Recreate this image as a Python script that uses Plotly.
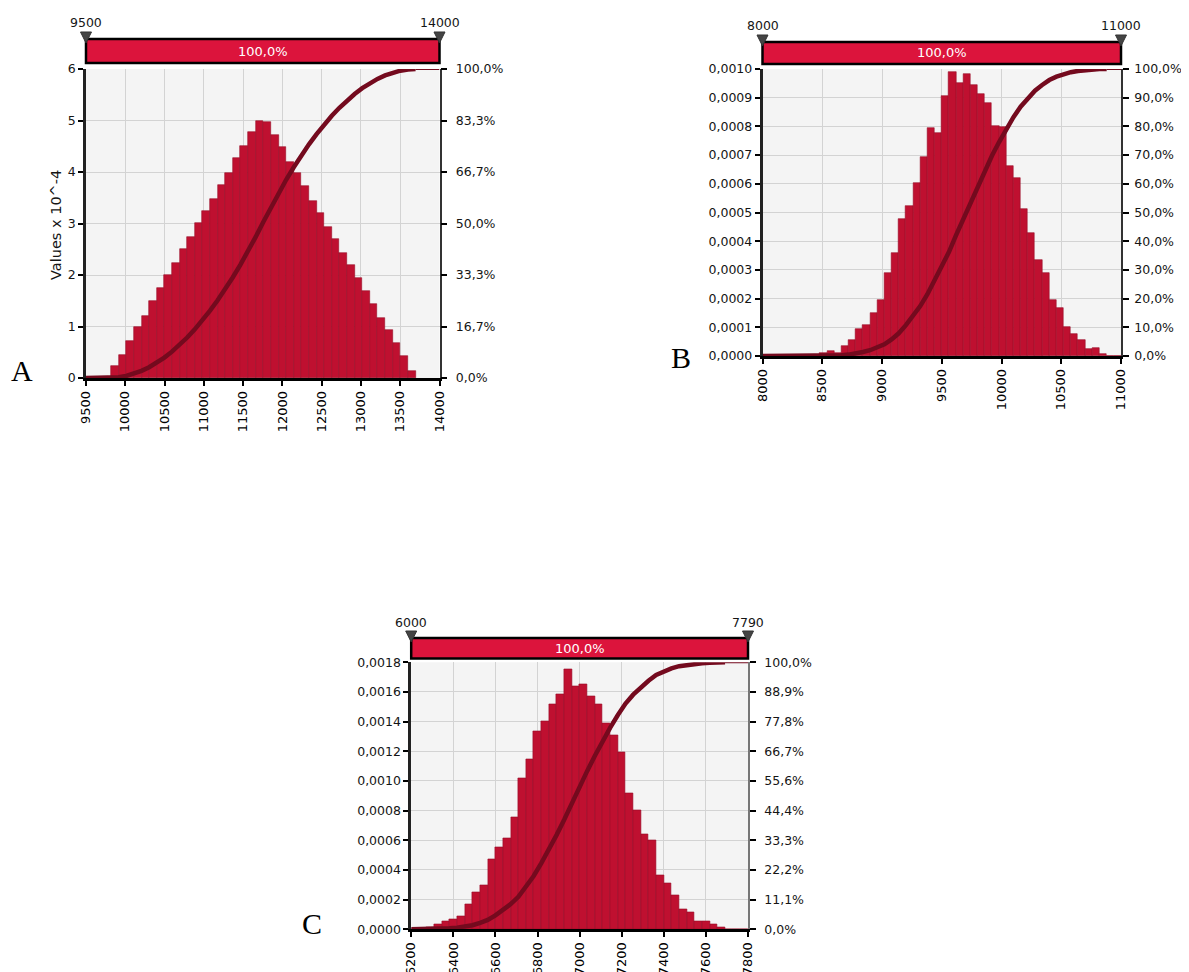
import numpy as np
import plotly.graph_objects as go

W, H = 1189, 972
OFF = 8  # page body margin compensation


def px(x):
    return (x - OFF) / W


def py(y):
    return 1 - (y - OFF) / H


# ---------------- data ----------------
# Panel A  (density values in units of 1e-4)
a_bin_start = 9819
a_bin_width = 96.9
a_density = [0.24, 0.45, 0.71, 0.99, 1.21, 1.50, 1.74, 2.00, 2.24, 2.50,
             2.74, 3.01, 3.25, 3.48, 3.75, 3.99, 4.27, 4.50, 4.77, 5.00,
             4.97, 4.72, 4.48, 4.20, 3.98, 3.72, 3.44, 3.20, 2.94, 2.69,
             2.43, 2.19, 1.94, 1.68, 1.44, 1.16, 0.93, 0.67, 0.42, 0.14]
a_xrange = [9500, 14000]
a_xticks = [9500, 10000, 10500, 11000, 11500, 12000, 12500, 13000, 13500, 14000]
a_yticks = [0, 1, 2, 3, 4, 5, 6]
a_ytext = ["0", "1", "2", "3", "4", "5", "6"]
a_rtext = ["0,0%", "16,7%", "33,3%", "50,0%", "66,7%", "83,3%", "100,0%"]
a_slider = ["9500", "14000"]

# Panel B  (density values in units of 1e-4)
b_bin_start = 8000
b_bin_width = 60
b_density = [0, 0, 0, 0, 0, 0, 0.02, 0.05, 0.12, 0.16,
             0.12, 0.35, 0.55, 0.95, 1.08, 1.49, 1.96, 2.90, 3.58, 4.76,
             5.21, 6.04, 6.92, 7.96, 7.76, 9.07, 9.90, 9.50, 9.83, 9.44,
             9.13, 8.80, 8.03, 7.98, 6.62, 6.19, 5.11, 4.30, 3.33, 2.90,
             1.95, 1.66, 1.00, 0.75, 0.55, 0.23, 0.27, 0.07, 0, 0]
b_xrange = [8000, 11000]
b_xticks = [8000, 8500, 9000, 9500, 10000, 10500, 11000]
b_yticks = [0, 1, 2, 3, 4, 5, 6, 7, 8, 9, 10]
b_ytext = ["0,0000", "0,0001", "0,0002", "0,0003", "0,0004", "0,0005",
           "0,0006", "0,0007", "0,0008", "0,0009", "0,0010"]
b_rtext = ["0,0%", "10,0%", "20,0%", "30,0%", "40,0%", "50,0%",
           "60,0%", "70,0%", "80,0%", "90,0%", "100,0%"]
b_slider = ["8000", "11000"]

# Panel C  (density values in units of 1e-4)
c_bin_start = 6200
c_bin_width = 1600 / 44
c_density = [0.03, 0.06, 0.12, 0.33, 0.51, 0.67, 0.85, 1.68, 2.47, 2.99,
             4.69, 5.53, 6.15, 7.57, 10.15, 11.43, 13.37, 14.00, 15.17, 15.86,
             17.50, 16.36, 16.52, 15.70, 15.17, 13.88, 13.10, 11.90, 9.17, 8.04,
             6.40, 6.02, 3.61, 3.12, 2.31, 1.36, 1.14, 0.56, 0.52, 0.33,
             0.11, 0, 0, 0]
c_xrange = [6200, 7800]
c_xticks = [6200, 6400, 6600, 6800, 7000, 7200, 7400, 7600, 7800]
c_yticks = [0, 2, 4, 6, 8, 10, 12, 14, 16, 18]
c_ytext = ["0,0000", "0,0002", "0,0004", "0,0006", "0,0008", "0,0010",
           "0,0012", "0,0014", "0,0016", "0,0018"]
c_rtext = ["0,0%", "11,1%", "22,2%", "33,3%", "44,4%", "55,6%",
           "66,7%", "77,8%", "88,9%", "100,0%"]
c_slider = ["6000", "7790"]

panel_letters = ["A", "B", "C"]
y_title_a = "Values x 10^-4"

# ---------------- geometry / styles ----------------
panels = [
    dict(start=a_bin_start, width=a_bin_width, dens=a_density, xr=a_xrange,
         xt=a_xticks, yt=a_yticks, ytx=a_ytext, rtx=a_rtext, sl=a_slider,
         L=86, R=439.5, T=69, B=378, sT=39, sB=63, letter=(22, 370), rstand=6),
    dict(start=b_bin_start, width=b_bin_width, dens=b_density, xr=b_xrange,
         xt=b_xticks, yt=b_yticks, ytx=b_ytext, rtx=b_rtext, sl=b_slider,
         L=762.5, R=1121, T=69, B=356, sT=42, sB=64, letter=(681, 357), rstand=3),
    dict(start=c_bin_start, width=c_bin_width, dens=c_density, xr=c_xrange,
         xt=c_xticks, yt=c_yticks, ytx=c_ytext, rtx=c_rtext, sl=c_slider,
         L=411.2, R=748, T=662.3, B=929.3, sT=638, sB=658.5, letter=(312, 923), rstand=6),
]

BAR_COLOR = "#bf1030"
BAR_EDGE = "#970b26"
CDF_COLOR = "#740a1e"
GRID = "#d3d3d3"
FONT = "DejaVu Sans"
TXT = "#151515"

fig = go.Figure()
layout = dict(
    template="none",
    width=W, height=H, margin=dict(l=0, r=0, t=0, b=0, pad=0, autoexpand=False),
    paper_bgcolor="white", plot_bgcolor="#f4f4f4",
    showlegend=False, bargap=0, barmode="overlay",
    font=dict(family=FONT, size=12, color=TXT),
)
shapes = []
annotations = []

for i, p in enumerate(panels):
    xn = "" if i == 0 else str(i + 1)
    yl = "" if i == 0 else str(2 * i + 1)
    yr = str(2 * i + 2)
    n = len(p["dens"])
    edges = p["start"] + p["width"] * np.arange(n + 1)
    centers = (edges[:-1] + edges[1:]) / 2
    dens = np.array(p["dens"], dtype=float)
    cum = np.concatenate([[0.0], np.cumsum(dens * p["width"])])
    cum = cum / cum[-1]
    last = int(np.nonzero(dens)[0][-1]) + 1  # edge index where CDF reaches 100 %
    xl = np.concatenate([[p["xr"][0]], edges[:last + 1]])
    ylc = np.concatenate([[0.0], cum[:last + 1]])

    fig.add_trace(go.Bar(
        x=centers, y=dens, width=[p["width"]] * n,
        xaxis="x" + xn, yaxis="y" + yl,
        marker=dict(color=BAR_COLOR, line=dict(color=BAR_EDGE, width=0.6)),
        hoverinfo="skip"))
    fig.add_trace(go.Scatter(
        x=xl, y=ylc, mode="lines", xaxis="x" + xn, yaxis="y" + yr,
        line=dict(color=CDF_COLOR, width=4.5), cliponaxis=False,
        hoverinfo="skip"))
    fig.add_trace(go.Scatter(
        x=[edges[last], p["xr"][1]], y=[1.0, 1.0], mode="lines",
        xaxis="x" + xn, yaxis="y" + yr,
        line=dict(color=CDF_COLOR, width=2), cliponaxis=False,
        hoverinfo="skip"))

    dom_x = [px(p["L"]), px(p["R"])]
    dom_y = [py(p["B"]), py(p["T"])]
    layout["xaxis" + xn] = dict(
        domain=dom_x, range=p["xr"], anchor="y" + yl, automargin=False,
        tickvals=p["xt"], ticktext=[str(v) for v in p["xt"]], tickangle=-90,
        showline=True, linecolor="black", linewidth=2.5,
        ticks="outside", ticklen=5, tickwidth=1.5, tickcolor="black",
        showgrid=True, gridcolor=GRID, gridwidth=1, zeroline=False,
        tickfont=dict(family=FONT, size=13, color="#000"), fixedrange=True)
    layout["yaxis" + yl] = dict(
        domain=dom_y, range=[p["yt"][0], p["yt"][-1]], anchor="x" + xn,
        automargin=False,
        tickvals=p["yt"], ticktext=p["ytx"],
        showline=True, linecolor="#222", linewidth=2.5,
        ticks="outside", ticklen=5, tickwidth=1.5, tickcolor="black",
        showgrid=True, gridcolor=GRID, gridwidth=1, zeroline=False,
        tickfont=dict(family=FONT, size=12.5, color=TXT), fixedrange=True)
    nr = len(p["rtx"])
    layout["yaxis" + yr] = dict(
        overlaying="y" + yl, side="right", anchor="x" + xn, range=[0, 1],
        automargin=False,
        tickvals=list(np.linspace(0, 1, nr)), ticktext=p["rtx"],
        showline=True, linecolor="#333" if i < 2 else "#777", linewidth=1.5,
        ticks="outside", ticklen=6, tickwidth=1.5, tickcolor="black",
        ticklabelstandoff=p["rstand"],
        showgrid=False, zeroline=False,
        tickfont=dict(family=FONT, size=12.5, color=TXT), fixedrange=True)

    # slider bar above plot
    shapes.append(dict(type="rect", xref="paper", yref="paper",
                       x0=px(p["L"]), x1=px(p["R"]), y0=py(p["sB"]), y1=py(p["sT"]),
                       fillcolor="#dc143c", line=dict(color="black", width=2.5),
                       layer="above"))
    for xe in (p["L"], p["R"]):
        path = "M {:.5f},{:.5f} L {:.5f},{:.5f} L {:.5f},{:.5f} Z".format(
            px(xe - 5.5), py(p["sT"] - 7), px(xe + 5.5), py(p["sT"] - 7),
            px(xe), py(p["sT"] + 4))
        shapes.append(dict(type="path", xref="paper", yref="paper", path=path,
                           fillcolor="#444444", line=dict(color="#333", width=1),
                           layer="above"))
    annotations.append(dict(xref="paper", yref="paper",
                            x=px((p["L"] + p["R"]) / 2), y=py((p["sT"] + p["sB"]) / 2),
                            text="100,0%", showarrow=False,
                            font=dict(family=FONT, size=13, color="white"),
                            xanchor="center", yanchor="middle"))
    for xe, lab in zip((p["L"], p["R"]), p["sl"]):
        annotations.append(dict(xref="paper", yref="paper",
                                x=px(xe), y=py(p["sT"] - 16), text=lab,
                                showarrow=False,
                                font=dict(family=FONT, size=12.5, color=TXT),
                                xanchor="center", yanchor="middle"))
    lx, ly = p["letter"]
    annotations.append(dict(xref="paper", yref="paper", x=px(lx), y=py(ly),
                            text=panel_letters[i], showarrow=False,
                            font=dict(family="Liberation Serif", size=30, color="black"),
                            xanchor="center", yanchor="middle"))

annotations.append(dict(xref="paper", yref="paper", x=px(56), y=py(225),
                        text=y_title_a, textangle=-90, showarrow=False,
                        font=dict(family=FONT, size=14.5, color=TXT),
                        xanchor="center", yanchor="middle"))

layout["shapes"] = shapes
layout["annotations"] = annotations
fig.update_layout(**layout)

fig.write_html("out.html")
